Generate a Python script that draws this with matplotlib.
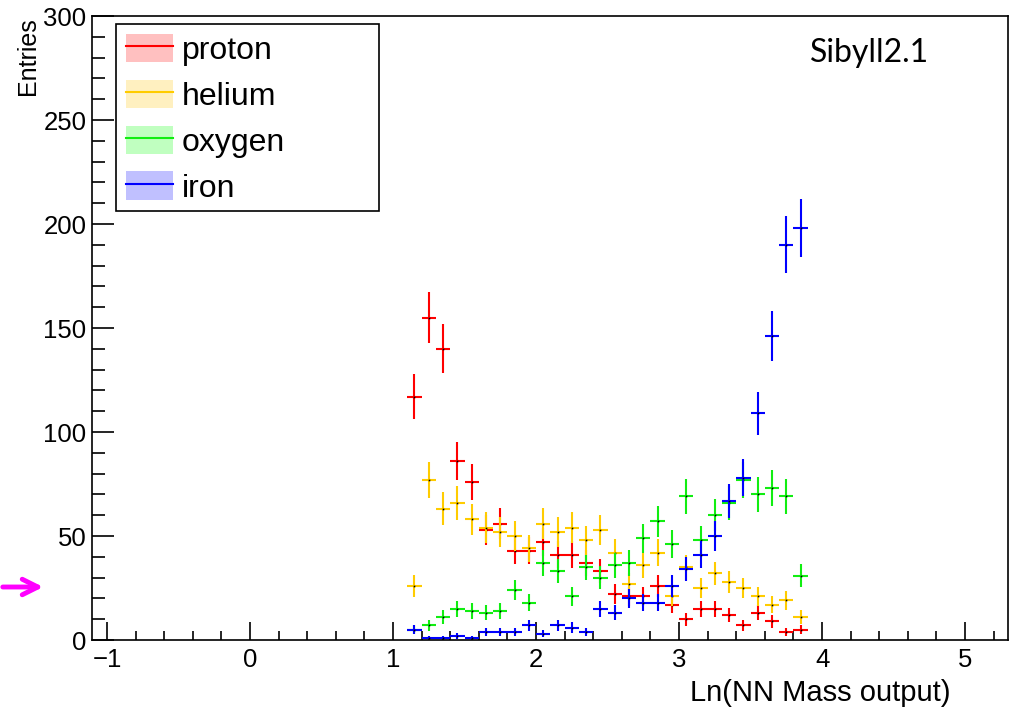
import numpy as np
import matplotlib
matplotlib.use('Agg')
from matplotlib import pyplot as plt
from matplotlib.patches import Patch, Rectangle
from matplotlib.lines import Line2D
from matplotlib.ticker import MultipleLocator

# bin centres of Ln(NN Mass output), bin width 0.1
BINS = [1.15, 1.25, 1.35, 1.45, 1.55, 1.65, 1.75, 1.85, 1.95, 2.05,
        2.15, 2.25, 2.35, 2.45, 2.55, 2.65, 2.75, 2.85, 2.95, 3.05,
        3.15, 3.25, 3.35, 3.45, 3.55, 3.65, 3.75, 3.85]

proton = [117, 155, 140, 86, 76, 53, 56, 43, 43, 47,
          41, 41, 37, 33, 22, 21, 21, 26, 17, 10,
          15, 15, 12, 7, 13, 9, 4, 5]
helium = [26, 77, 63, 66, 58, 54, 52, 50, 44, 56,
          52, 54, 48, 53, 42, 27, 36, 42, 21, 35,
          25, 32, 28, 25, 21, 17, 19, 11]
oxygen = [5, 7, 11, 15, 14, 13, 14, 24, 18, 37,
          33, 21, 35, 30, 36, 37, 49, 57, 46, 69,
          48, 60, 66, 77, 70, 73, 69, 31]
iron = [5, 1, 1, 2, 1, 4, 4, 4, 7, 3,
        7, 6, 4, 15, 13, 20, 18, 18, 26, 34,
        41, 50, 67, 78, 109, 146, 190, 198]

SERIES = [
    ('proton', proton, '#ff0000', '#ffc0c0'),
    ('helium', helium, '#ffcc00', '#fff0c0'),
    ('oxygen', oxygen, '#11ee11', '#c0ffc0'),
    ('iron', iron, '#0000ff', '#c0c0ff'),
]

W, H = 1013, 714


def main():
    plt.rcParams['font.family'] = ['Liberation Sans', 'DejaVu Sans']

    fig = plt.figure(figsize=(W / 100, H / 100), dpi=100)
    ax = fig.add_axes([92 / W, 74 / H, 916 / W, 624 / H])

    handles = []
    for name, values, color, fill in SERIES:
        y = np.array(values, dtype=float)
        ax.errorbar(BINS, y, xerr=0.05, yerr=np.sqrt(y), fmt='none',
                    ecolor=color, elinewidth=1.5, capsize=0)
        ax.plot(BINS, y, 's', color='black', markersize=1.2, markeredgewidth=0)
        handles.append((Patch(facecolor=fill, edgecolor='none'),
                        Line2D([], [], color=color, lw=1.5)))

    ax.set_xlim(-1.105, 5.3)
    ax.set_ylim(0, 300)
    ax.xaxis.set_major_locator(MultipleLocator(1))
    ax.xaxis.set_minor_locator(MultipleLocator(0.2))
    ax.yaxis.set_major_locator(MultipleLocator(50))
    ax.yaxis.set_minor_locator(MultipleLocator(10))
    ax.tick_params(axis='x', which='major', direction='in', length=13, width=1.2,
                   labelsize=18.5, pad=6)
    ax.tick_params(axis='x', which='minor', direction='in', length=6.5, width=1.2)
    ax.tick_params(axis='y', which='major', direction='in', length=16, width=1.2,
                   labelsize=18.5, pad=4)
    ax.tick_params(axis='y', which='minor', direction='in', length=9.5, width=1.2)
    for sp in ax.spines.values():
        sp.set_linewidth(1.2)

    fig.text(950 / W, 1 - 693 / H, 'Ln(NN Mass output)', ha='right', va='center',
             fontsize=21)
    fig.text(28 / W, 1 - 17 / H, 'Entries', rotation=90, ha='center', va='top',
             fontsize=18)
    fig.text(810 / W, 1 - 53 / H, 'Sibyll2.1', ha='left', va='center',
             fontsize=23, family=['Lato', 'DejaVu Sans'])

    # legend box of fixed size, like the ROOT TLegend
    ax.add_patch(Rectangle((116 / W, 1 - 211 / H), 263 / W, 187 / H,
                           transform=fig.transFigure, facecolor='white',
                           edgecolor='black', linewidth=1.2, zorder=4,
                           clip_on=False))
    leg = ax.legend(handles, [s[0] for s in SERIES], loc='upper left',
                    bbox_to_anchor=(116 / W, 1 - 24 / H),
                    bbox_transform=fig.transFigure,
                    fontsize=23, frameon=False, handlelength=1.47, handleheight=1.0,
                    handletextpad=0.28, labelspacing=0.43, borderpad=0.3,
                    borderaxespad=0)
    leg.set_zorder(5)

    ax.annotate('', xy=(46, 127), xytext=(0, 127), xycoords='figure pixels',
                textcoords='figure pixels',
                arrowprops=dict(arrowstyle='->', color='magenta', lw=3.5,
                                mutation_scale=28))

    fig.savefig('out.png', dpi=100)


if __name__ == '__main__':
    main()
